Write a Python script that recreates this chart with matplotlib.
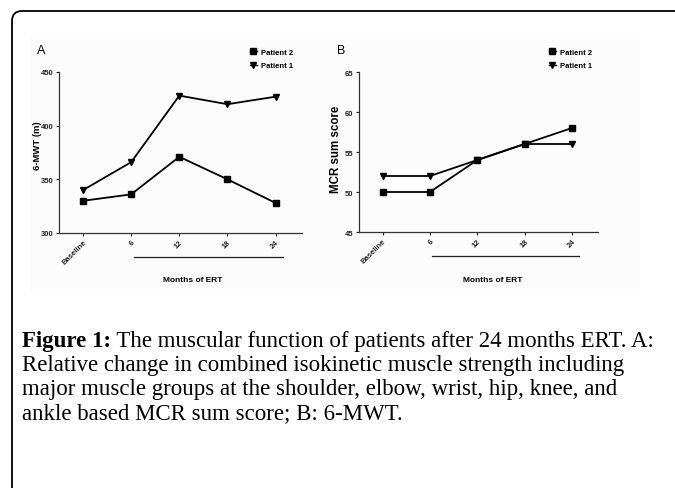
import matplotlib
matplotlib.use("Agg")
import matplotlib.pyplot as plt
from matplotlib.path import Path
from matplotlib.patches import PathPatch, Rectangle

# ---------- DATA ----------
months = ["Baseline", "6", "12", "18", "24"]

mwt_patient1 = [340, 366, 428, 420, 427]
mwt_patient2 = [330, 336, 371, 350, 328]
mwt_ticks = [300, 350, 400, 450]

mcr_patient1 = [52, 52, 54, 56, 56]
mcr_patient2 = [50, 50, 54, 56, 58]
mcr_ticks = [45, 50, 55, 60, 65]

caption_bold = "Figure 1:"
caption_lines = [
    " The muscular function of patients after 24 months ERT. A:",
    "Relative change in combined isokinetic muscle strength including",
    "major muscle groups at the shoulder, elbow, wrist, hip, knee, and",
    "ankle based MCR sum score; B: 6-MWT.",
]
# --------------------------

W, H = 675, 489
fig = plt.figure(figsize=(W / 100, H / 100), dpi=100)
fig.patch.set_facecolor("white")

SANS = "Liberation Sans"
SERIF = "Liberation Serif"


def px_axes(x0, y0, x1, y1):
    return fig.add_axes([x0 / W, 1 - y1 / H, (x1 - x0) / W, (y1 - y0) / H])


def panel(ax, p1, p2, ticks, ylabel, ylabel_size, ylab_y, letter, letter_x, legend_x, xlab_x):
    x = list(range(len(months)))
    ax.plot(x, p2, color="black", lw=1.3, marker="s", ms=4.5, label="Patient 2")
    ax.plot(x, p1, color="black", lw=1.3, marker="v", ms=5, label="Patient 1")
    ax.set_xlim(-0.5, 4.55)
    ax.set_ylim(ticks[0], ticks[-1])
    ax.set_yticks(ticks)
    ax.set_xticks(x)
    ax.set_xticklabels(months, rotation=45, ha="right", rotation_mode="anchor")
    for s in ("top", "right"):
        ax.spines[s].set_visible(False)
    for s in ("left", "bottom"):
        ax.spines[s].set_linewidth(0.9)
        ax.spines[s].set_color("#333333")
    ax.tick_params(length=2.5, width=0.8, labelsize=5.5, pad=1.5, colors="#222222")
    for lab in ax.get_xticklabels() + ax.get_yticklabels():
        lab.set_fontfamily(SANS)
        lab.set_fontweight("bold")
    ax.set_facecolor("none")
    ax.set_ylabel(ylabel, fontsize=ylabel_size, fontweight="bold", family=SANS)
    ax.yaxis.set_label_coords(-0.07, ylab_y)

    # bracket line under the ERT months
    ax.plot([1.05, 4.15], [-0.15, -0.15], color="#222222", lw=0.9,
            transform=ax.get_xaxis_transform(), clip_on=False)
    fig.text(xlab_x / W, 1 - 281 / H, "Months of ERT",
             ha="center", va="center", fontsize=6, fontweight="bold", family=SANS)

    fig.text(letter_x / W, 1 - 51 / H, letter, fontsize=9, family=SANS, va="center")
    leg = ax.legend(loc="upper left", bbox_to_anchor=(legend_x / W, 1 - 46 / H),
                    bbox_transform=fig.transFigure, frameon=False, handlelength=0.9,
                    handletextpad=0.5, labelspacing=0.75, borderpad=0,
                    prop={"family": SANS, "weight": "bold", "size": 5.5})
    for h in leg.legend_handles:
        h.set_linewidth(1.0)
        h.set_markersize(3.8)


# faint panel backgrounds
for x0, x1 in [(30, 330), (325, 640)]:
    fig.add_artist(Rectangle((x0 / W, 1 - 295 / H), (x1 - x0) / W, 260 / H,
                             transform=fig.transFigure, facecolor="#fcfcfc",
                             edgecolor="none", zorder=-5))

axA = px_axes(59, 73, 302, 234)
panel(axA, mwt_patient1, mwt_patient2, mwt_ticks, "6-MWT (m)", 6.8, 0.55,
      "A", 37, 246, 193)

axB = px_axes(359, 73, 598, 233)
panel(axB, mcr_patient1, mcr_patient2, mcr_ticks, "MCR sum score", 8.3, 0.52,
      "B", 337, 545, 493)

# page border: left edge with rounded top-left corner
r = 10
verts = [(12, H), (12, 12 + r), (12, 12), (12 + r, 12), (W, 12)]
codes = [Path.MOVETO, Path.LINETO, Path.CURVE3, Path.CURVE3, Path.LINETO]
verts = [(vx / W, 1 - vy / H) for vx, vy in verts]
fig.add_artist(PathPatch(Path(verts, codes), transform=fig.transFigure,
                         facecolor="none", edgecolor="black", lw=1.3))

# caption
fig.canvas.draw()
renderer = fig.canvas.get_renderer()
x_cap = 22 / W
y0 = 342
step = 24
fs = 16.5
t = fig.text(x_cap, 1 - y0 / H, caption_bold, fontsize=fs, family=SERIF,
             fontweight="bold", va="center")
bb = t.get_window_extent(renderer)
fig.text(bb.x1 / W, 1 - y0 / H, caption_lines[0], fontsize=fs, family=SERIF, va="center")
for i, line in enumerate(caption_lines[1:], start=1):
    fig.text(x_cap, 1 - (y0 + step * i) / H, line, fontsize=fs, family=SERIF, va="center")

fig.savefig("out.png", dpi=100)
